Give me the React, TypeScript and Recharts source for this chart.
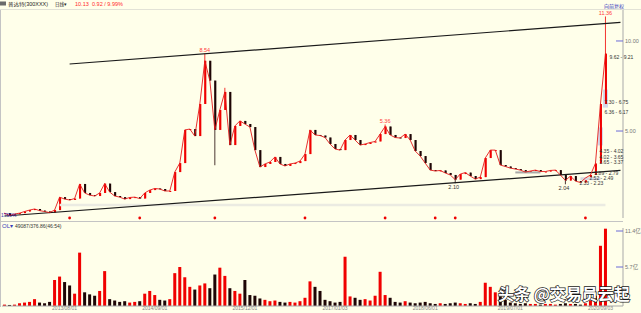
import React from 'react'
import { Bar, ComposedChart, Line, ReferenceArea, ReferenceDot, ReferenceLine, XAxis, YAxis } from 'recharts'

// daily closes sampled along the time axis (one slot per ~5px of the original)
const CLOSES = [
  0.44, 0.31, 0.39, 0.44, 0.53, 0.61, 0.67, 0.58, 0.53, 0.47,
  0.61, 1.33, 1.22, 1.17, 1.25, 2.06, 1.56, 1.44, 1.39, 1.56,
  2.08, 1.61, 1.39, 1.33, 1.22, 1.31, 1.33, 1.25, 1.56, 1.72,
  1.81, 1.78, 1.67, 1.67, 2.72, 3.22, 5.06, 5.11, 4.72, 6.5,
  8.9, 7.8, 5.06, 6.17, 7.17, 4.22, 5.28, 5.56, 5.39, 5.22,
  3.94, 3.0, 3.17, 3.28, 3.56, 3.17, 3.06, 3.17, 3.22, 3.33,
  3.72, 5.06, 4.78, 4.75, 4.64, 4.28, 4.0, 3.94, 4.5, 4.78,
  4.5, 4.22, 4.28, 4.36, 4.42, 4.83, 5.25, 4.78, 4.64, 4.61,
  4.83, 4.5, 3.89, 3.61, 3.22, 2.83, 2.78, 2.81, 2.67, 2.56,
  2.3, 2.61, 2.69, 2.5, 2.33, 2.44, 3.5, 3.94, 3.94, 3.11,
  3.03, 2.94, 2.89, 2.83, 2.72, 2.78, 2.83, 2.75, 2.75, 2.81,
  2.83, 2.56, 2.25, 2.5, 2.22, 2.14, 2.39, 2.56, 3.2, 6.5,
  9.3
]

// volume in 亿
const VOLUMES = [
  0.2, 0.15, 0.2, 0.4, 0.5, 0.6, 1.0, 0.5, 0.4, 0.6,
  3.8, 4.3, 3.5, 3.0, 1.8, 7.8, 2.0, 1.7, 1.5, 2.2,
  5.1, 1.0, 0.8, 0.6, 0.7, 0.5, 0.6, 0.7, 1.8, 2.2,
  1.6, 0.9, 0.8, 1.0, 4.8, 5.7, 4.2, 2.8, 2.4, 3.0,
  3.3, 2.6, 4.6, 5.6, 4.4, 2.6, 2.2, 1.8, 3.8, 1.6,
  1.5, 1.1, 0.9, 0.7, 0.8, 0.6, 0.5, 0.6, 0.5, 0.7,
  1.2, 3.6, 2.8, 2.2, 0.9, 0.7, 0.5, 0.6, 7.2, 1.4,
  1.2, 0.9, 1.0, 0.8, 1.5, 5.0, 1.6, 1.2, 0.6, 0.5,
  0.7, 0.5, 0.4, 0.5, 0.6, 0.4, 0.3, 0.4, 0.3, 0.4,
  0.5, 0.4, 0.3, 0.4, 0.3, 0.6, 3.4, 2.8, 2.0, 1.4,
  0.9, 0.5, 0.4, 0.3, 0.4, 0.3, 0.3, 0.2, 0.3, 0.3,
  0.2, 0.3, 0.4, 0.3, 0.3, 0.2, 0.4, 0.8, 1.5, 8.8,
  11.3
]

// extreme highs / lows beyond the candle bodies: [slot, price]
const WICK_HIGHS: Array<[number, number]> = [[40, 9.3], [44, 7.4], [76, 5.36], [120, 11.36]]
const WICK_LOWS: Array<[number, number]> = [[42, 3.1], [90, 2.1], [112, 2.04]]

const SLOTS = 124
const DATE_TICKS = [12, 30, 48, 66, 84, 101, 119]
const DATE_LABELS = ['2013/08/01', '2014/09/01', '2015/12/01', '2017/01/03', '2018/06/01', '2019/07/01', '2020/09/03']
const SIGNALS = [13, 27, 42, 60, 76, 86, 90, 116]

const PEAK_LABELS = [
  { i: 40, v: 9.3, text: '8.54' },
  { i: 76, v: 5.36, text: '5.36' },
  { i: 120, v: 11.36, text: '11.36' }
]
const TROUGH_LABELS = [
  { i: 90, v: 2.1, text: '2.10' },
  { i: 112, v: 2.04, text: '2.04' }
]
const RANGE_LABELS = [
  { i: 121, v: 9.21, text: '9.62 - 9.21' },
  { i: 120, v: 6.75, text: '7.30 - 6.75' },
  { i: 120, v: 6.17, text: '6.36 - 6.17' },
  { i: 119, v: 4.02, text: '4.35 - 4.02' },
  { i: 119, v: 3.65, text: '4.02 - 3.65' },
  { i: 119, v: 3.37, text: '3.65 - 3.37' },
  { i: 118, v: 2.79, text: '2.89 - 2.79' },
  { i: 117, v: 2.49, text: '2.52 - 2.49' },
  { i: 115, v: 2.23, text: '2.33 - 2.23' }
]
// channel lines: [slot, price] end points
const UPPER_TREND: Array<[number, number]> = [[13, 8.72], [123, 11.03]]
const LOWER_TREND: Array<[number, number]> = [[0, 0.28], [123, 2.81]]
const PRICE_TICKS = [5, 10]
const VOL_TICKS = [5.7, 11.4]

const Y_MIN = 0.17
const Y_MAX = 11.72
const BG = '#ffffea'
const UP = '#f00000'
const DOWN = '#1e0505'
const AXIS = '#a9a9a9'
const FONT = "'Liberation Sans', 'Noto Sans CJK SC', sans-serif"

const rows = Array.from({ length: SLOTS }, (_, i) => {
  if (i >= CLOSES.length) return { i }
  const close = CLOSES[i]
  const open = i === 0 ? close : CLOSES[i - 1]
  const lo = Math.min(open, close)
  const hi = Math.max(open, close)
  const wh = WICK_HIGHS.find((w) => w[0] === i)
  const wl = WICK_LOWS.find((w) => w[0] === i)
  return {
    i,
    open,
    close,
    up: close >= open,
    body: [lo, hi],
    wick: [wl ? wl[1] : lo, wh ? wh[1] : hi],
    vol: VOLUMES[i]
  }
})

function renderBody(p: any) {
  const { x, y, width, height, payload } = p
  if (payload == null || payload.close == null) return null
  const top = height < 0 ? y + height : y
  return <rect x={x} y={top} width={width} height={Math.max(Math.abs(height), 1)} fill={payload.up ? UP : DOWN} />
}

function renderWick(p: any) {
  const { x, y, width, height, payload } = p
  if (payload == null || payload.close == null) return null
  const cx = x + width / 2
  return <line x1={cx} x2={cx} y1={y} y2={y + height} stroke={payload.up ? UP : DOWN} strokeWidth={0.8} />
}

function renderVol(p: any) {
  const { x, y, width, height, payload } = p
  if (payload == null || payload.vol == null) return null
  return <rect x={x} y={y} width={width} height={Math.max(height, 0.5)} fill={payload.up ? UP : DOWN} />
}

function PriceTick(p: any) {
  const { x, y, payload } = p
  return (
    <g>
      <line x1={x - 9} x2={x - 2} y1={y} y2={y} stroke="#6a6ad8" />
      <text x={x} y={y + 2} fontSize={5.5} fill="#777" fontFamily={FONT}>
        {payload.value.toFixed(2)}
      </text>
    </g>
  )
}

function VolTick(p: any) {
  const { x, y, payload } = p
  return (
    <g>
      <line x1={x - 9} x2={x - 2} y1={y} y2={y} stroke="#6a6ad8" />
      <text x={x} y={y + 2} fontSize={5.5} fill="#777" fontFamily={FONT}>
        {payload.value + '亿'}
      </text>
    </g>
  )
}

function PriceChart() {
  return (
    <ComposedChart width={641} height={222} data={rows} margin={{ top: 10, right: 0, bottom: 4, left: 2 }}>
      <XAxis xAxisId="body" dataKey="i" hide />
      <XAxis xAxisId="wick" dataKey="i" hide />
      <YAxis
        orientation="right"
        width={18}
        domain={[Y_MIN, Y_MAX]}
        allowDataOverflow
        ticks={PRICE_TICKS}
        axisLine={{ stroke: AXIS }}
        tickLine={false}
        tickSize={0}
        tick={<PriceTick />}
      />
      <ReferenceLine
        xAxisId="body"
        segment={[{ x: 11, y: 0.89 }, { x: 120, y: 0.89 }]}
        stroke="#ebebe2"
        strokeWidth={2.5}
        ifOverflow="visible"
      />
      <ReferenceLine
        xAxisId="body"
        segment={[{ x: 102, y: 2.7 }, { x: 107, y: 2.7 }]}
        stroke="#a8a8a8"
        strokeWidth={2}
      />
      <ReferenceLine
        xAxisId="body"
        segment={[{ x: 115, y: 2.35 }, { x: 119, y: 2.35 }]}
        stroke="#d8d8e0"
        strokeWidth={3}
      />
      <ReferenceArea xAxisId="body" x1={119} x2={119} y1={4.2} y2={5.2} fill="#d4d8ea" fillOpacity={1} stroke="none" />
      <ReferenceArea xAxisId="body" x1={120} x2={120} y1={6.3} y2={7.3} fill="#d4d8ea" fillOpacity={1} stroke="none" />
      <ReferenceLine
        xAxisId="body"
        segment={UPPER_TREND.map(([x, y]) => ({ x, y }))}
        stroke="#1a1a1a"
        strokeWidth={1.2}
        ifOverflow="visible"
      />
      <ReferenceLine
        xAxisId="body"
        segment={LOWER_TREND.map(([x, y]) => ({ x, y }))}
        stroke="#1a1a1a"
        strokeWidth={1.2}
        ifOverflow="visible"
      />
      <Line
        xAxisId="body"
        type="linear"
        dataKey="close"
        stroke="#e41a1a"
        strokeWidth={0.9}
        dot={false}
        isAnimationActive={false}
      />
      <Bar xAxisId="wick" dataKey="wick" barSize={1} shape={renderWick} isAnimationActive={false} />
      <Bar xAxisId="body" dataKey="body" barSize={2} shape={renderBody} isAnimationActive={false} />
      {SIGNALS.map((s) => (
        <ReferenceDot key={'s' + s} xAxisId="body" x={s} y={Y_MIN} r={1.4} fill="#ee0000" stroke="none" ifOverflow="visible" />
      ))}
      {PEAK_LABELS.map((l) => (
        <ReferenceDot
          key={l.text}
          xAxisId="body"
          x={l.i}
          y={l.v}
          r={1}
          ifOverflow="visible"
          shape={(p: any) => (
            <text x={p.cx} y={p.cy - 1.5} textAnchor="middle" fontSize={5.5} fill="#ff3b3b" fontFamily={FONT}>
              {l.text}
            </text>
          )}
        />
      ))}
      {TROUGH_LABELS.map((l) => (
        <ReferenceDot
          key={l.text}
          xAxisId="body"
          x={l.i}
          y={l.v}
          r={1}
          ifOverflow="visible"
          shape={(p: any) => (
            <text x={p.cx - 1.5} y={p.cy + 6} textAnchor="middle" fontSize={5.5} fill="#333" fontFamily={FONT}>
              {l.text}
            </text>
          )}
        />
      ))}
      {RANGE_LABELS.map((l) => (
        <ReferenceDot
          key={l.text}
          xAxisId="body"
          x={l.i}
          y={l.v}
          r={1}
          ifOverflow="visible"
          shape={(p: any) => (
            <text x={p.cx - 1} y={p.cy + 4} fontSize={5} fill="#333" fontFamily={FONT}>
              {l.text}
            </text>
          )}
        />
      ))}
    </ComposedChart>
  )
}

function VolumeChart() {
  return (
    <ComposedChart width={641} height={91} data={rows} margin={{ top: 6, right: 0, bottom: 0, left: 2 }}>
      <XAxis
        dataKey="i"
        ticks={DATE_TICKS}
        interval={0}
        height={7}
        tickLine={false}
        tickSize={0}
        tickMargin={0}
        axisLine={{ stroke: AXIS }}
        tick={{ fontSize: 5, fill: '#888', fontFamily: FONT }}
        tickFormatter={(v: number) => DATE_LABELS[DATE_TICKS.indexOf(v)] ?? ''}
      />
      <YAxis
        orientation="right"
        width={18}
        domain={[0, 11.4]}
        allowDataOverflow
        ticks={VOL_TICKS}
        axisLine={{ stroke: AXIS }}
        tickLine={false}
        tickSize={0}
        tick={<VolTick />}
      />
      <Bar dataKey="vol" barSize={3} shape={renderVol} isAnimationActive={false} />
    </ComposedChart>
  )
}

function Overlay() {
  return (
    <svg width={641} height={313} style={{ position: 'absolute', left: 0, top: 0, pointerEvents: 'none' }} fontFamily={FONT}>
      <line x1={0.5} x2={0.5} y1={9} y2={307} stroke="#c4c4c4" />
      <line x1={0} x2={623} y1={221.5} y2={221.5} stroke="#c4c4c4" />
      <line x1={0} x2={641} y1={9.5} y2={9.5} stroke="#e2e2d6" />
      <rect x={0} y={1.5} width={6} height={4} fill="#6b6b6b" />
      <text x={8} y={6} fontSize={4.5} fill="#222" textLength={40} lengthAdjust="spacingAndGlyphs">
        普达特(300XXX)
      </text>
      <text x={55} y={6} fontSize={4.5} fill="#222">
        日线▾
      </text>
      <text x={75} y={6} fontSize={5.5} fill="#ff2a2a">
        10.13
      </text>
      <text x={92} y={6} fontSize={5.5} fill="#ff2a2a">
        0.92 / 9.99%
      </text>
      <text x={604} y={8} fontSize={5} fill="#3333bb">向前复权</text>
      <text x={1} y={217} fontSize={5} fill="#3a3ab8">1790%</text>
      <text x={2} y={228} fontSize={6} fill="#3a3ab8">OL▾</text>
      <text x={15} y={228} fontSize={5} fill="#333">49087/376.86(46:54)</text>
      <text
        x={498}
        y={300}
        fontSize={16}
        fontWeight="bold"
        fill="#ffffff"
        stroke="#1a1a1a"
        strokeWidth={1.4}
        paintOrder="stroke"
        fontFamily="'Noto Sans CJK SC', sans-serif"
      >
        头条 @交易员云起
      </text>
    </svg>
  )
}

export default function App() {
  return (
    <div style={{ position: 'fixed', left: 0, top: 0, width: 641, height: 313, background: BG, overflow: 'hidden' }}>
      <div style={{ position: 'absolute', left: 0, top: 0 }}>
        <PriceChart />
      </div>
      <div style={{ position: 'absolute', left: 0, top: 222 }}>
        <VolumeChart />
      </div>
      <Overlay />
    </div>
  )
}
